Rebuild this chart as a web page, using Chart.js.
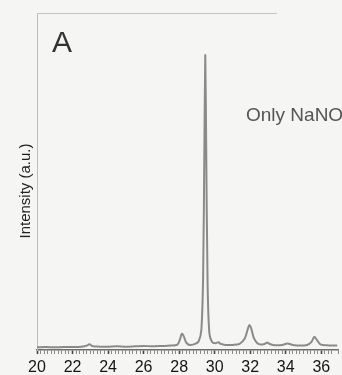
<!DOCTYPE html>
<html>
<head>
<meta charset="utf-8">
<script src="https://cdn.jsdelivr.net/npm/chart.js@4"></script>
<style>
  html, body { margin: 0; padding: 0; background: #f5f5f3; }
  #wrap { width: 342px; height: 375px; position: relative; }
</style>
</head>
<body>
<div id="wrap"><canvas id="chart"></canvas></div>
<script>
// 2-theta positions (deg) and intensity (a.u.)
var twoTheta = [20, 20.5, 21, 21.5, 22, 22.5, 22.8, 22.95, 23.1, 23.5, 24, 24.5, 25, 25.5, 26, 26.5, 27, 27.5,
  27.9, 28.05, 28.15, 28.25, 28.4, 28.6, 28.9, 29.1, 29.25, 29.35, 29.42, 29.47, 29.52, 29.6, 29.7, 29.85,
  30.05, 30.2, 30.35, 30.6, 31, 31.4, 31.7, 31.85, 31.95, 32.05, 32.2, 32.4, 32.6, 32.8, 32.95, 33.1, 33.4,
  33.8, 34.1, 34.4, 34.8, 35.2, 35.45, 35.6, 35.75, 35.95, 36.3, 36.9];
var intensity = [0.8, 0.9, 0.8, 0.9, 0.9, 1.0, 1.3, 1.7, 1.2, 1.0, 1.0, 1.1, 1.0, 1.1, 1.2, 1.1, 1.2, 1.3,
  1.6, 3.2, 4.8, 4.2, 2.2, 1.5, 1.8, 2.6, 6, 22, 60, 87.5, 62, 20, 5, 2.4,
  2.0, 2.3, 1.8, 1.5, 1.5, 1.8, 3.5, 6, 7.4, 6.5, 3.6, 2.0, 1.6, 1.8, 2.2, 1.8, 1.4,
  1.5, 1.9, 1.5, 1.3, 1.5, 2.4, 3.9, 3.0, 1.7, 1.4, 1.3];
var majorTicks = [20, 22, 24, 26, 28, 30, 32, 34, 36];

var points = twoTheta.map(function (x, i) { return { x: x, y: intensity[i] }; });

var decor = {
  id: 'decor',
  beforeDraw: function (chart) {
    var ctx = chart.ctx;
    ctx.save();
    ctx.fillStyle = '#f5f5f3';
    ctx.fillRect(0, 0, chart.width, chart.height);
    ctx.restore();
  },
  afterDraw: function (chart) {
    var ctx = chart.ctx, a = chart.chartArea, xs = chart.scales.x;
    ctx.save();
    // top frame line (fades out in the scan)
    ctx.strokeStyle = '#c4c4c4';
    ctx.lineWidth = 1;
    ctx.beginPath();
    ctx.moveTo(a.left, a.top + 0.5);
    ctx.lineTo(xs.getPixelForValue(33.5), a.top + 0.5);
    ctx.stroke();
    // panel letter
    ctx.fillStyle = '#333';
    ctx.font = '30px "Liberation Sans", Arial, sans-serif';
    ctx.fillText('A', 52, 52);
    // sample label
    ctx.fillStyle = '#555';
    ctx.font = '19px "Liberation Sans", Arial, sans-serif';
    ctx.fillText('Only NaNO\u2083', 246, 121);
    // y title
    ctx.translate(30, 191);
    ctx.rotate(-Math.PI / 2);
    ctx.textAlign = 'center';
    ctx.fillStyle = '#222';
    ctx.font = '15px "Liberation Sans", Arial, sans-serif';
    ctx.fillText('Intensity (a.u.)', 0, 0);
    ctx.restore();
  }
};

new Chart('chart', {
  type: 'line',
  data: {
    datasets: [{
      data: points,
      borderColor: '#8a8a8a',
      borderWidth: 2,
      pointRadius: 0,
      tension: 0.3,
      fill: false
    }]
  },
  options: {
    responsive: true,
    maintainAspectRatio: false,
    animation: false,
    layout: { padding: { left: 37, top: 13, right: 0, bottom: 0 } },
    plugins: { legend: { display: false }, tooltip: { enabled: false } },
    scales: {
      x: {
        type: 'linear',
        min: 20,
        max: 36.94,
        afterFit: function (s) { s.height = 25; },
        border: { display: true, color: '#6e6e6e', width: 1.5 },
        grid: {
          drawOnChartArea: false,
          tickLength: 4,
          tickColor: function (c) {
            return majorTicks.indexOf(Math.round(c.tick.value * 10) / 10) >= 0 ? '#444' : '#888';
          },
          tickWidth: function (c) {
            return majorTicks.indexOf(Math.round(c.tick.value * 10) / 10) >= 0 ? 1.6 : 1;
          }
        },
        ticks: {
          stepSize: 0.2,
          autoSkip: false,
          maxRotation: 0,
          padding: 4,
          color: '#151515',
          font: { family: '"Liberation Sans", Arial, sans-serif', size: 16 },
          callback: function (v) {
            var r = Math.round(v * 10) / 10;
            return majorTicks.indexOf(r) >= 0 ? String(r) : '';
          }
        }
      },
      y: {
        min: 0,
        max: 100,
        afterFit: function (s) { s.width = 0; },
        border: { display: true, color: '#bdbdbd', width: 1 },
        grid: { display: false },
        ticks: { display: false }
      }
    }
  },
  plugins: [decor]
});
</script>
</body>
</html>
